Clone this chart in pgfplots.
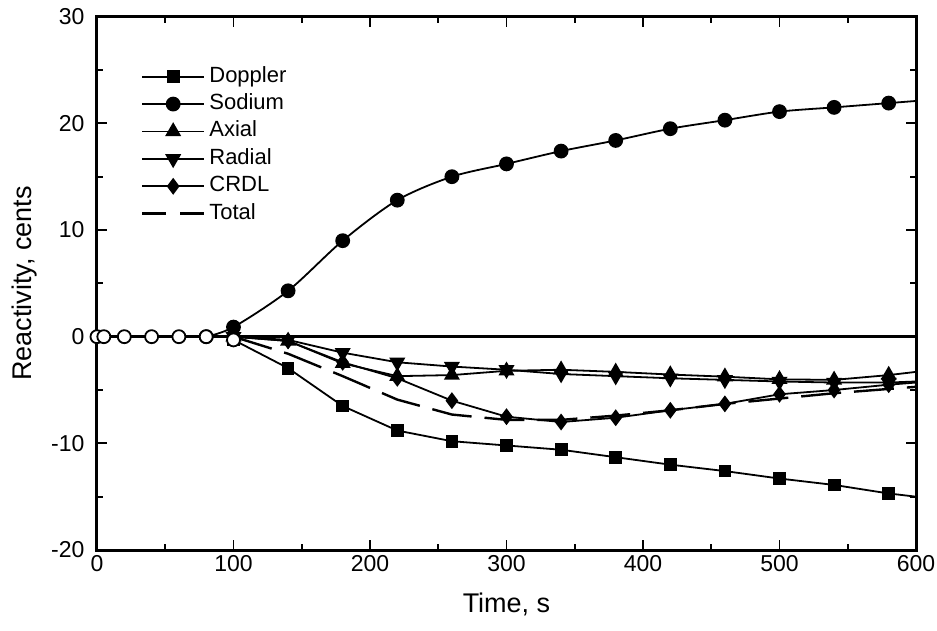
\documentclass[border=0pt]{standalone}
\usepackage{fontspec}
\setmainfont{Liberation Sans}
\usepackage{pgfplots}
\pgfplotsset{compat=1.18}
\begin{document}
\begin{tikzpicture}
\begin{axis}[
  scale only axis, width=819pt, height=533.3pt,
  xmin=0, xmax=600, ymin=-20, ymax=30,
  xtick={0,100,...,600}, ytick={-20,-10,...,30},
  minor x tick num=1, minor y tick num=1,
  tick align=inside, major tick length=10pt, minor tick length=6pt,
  axis line style={line width=3pt},
  every tick/.style={line width=1.8pt, black},
  tick label style={font=\fontsize{23}{27}\selectfont},
  /pgf/number format/assume math mode=true,
  yticklabel style={xshift=-9pt},
  xticklabel style={yshift=-2pt},
  xlabel={Time, s}, ylabel={Reactivity, cents},
  label style={font=\fontsize{27}{32}\selectfont},
  xlabel style={at={(axis description cs:0.5,-0.103)},anchor=center},
  ylabel style={at={(axis description cs:-0.088,0.5)},anchor=center},
  legend cell align=left,
  legend style={draw=none, fill=none, at={(axis description cs:0.0537,0.911)},
    anchor=north west, inner sep=0pt, outer sep=0pt,
    font=\fontsize{22}{26}\selectfont, row sep=2.4pt, column sep=2pt,
    nodes={inner sep=2pt, text height=16pt, text depth=5pt}},
  legend image code/.code={\draw[/tikz/mark indices={2}] plot coordinates {(0pt,0pt)(31pt,0pt)(62pt,0pt)};},
]
\addplot[black, line width=2.6pt, forget plot] coordinates {(0,0)(600,0)};

\addplot[black, line width=1.8pt, mark=square*, mark size=5.5pt, mark options={solid,fill=black}, mark indices={1,...,13}]
 coordinates {(100,-0.3)(140,-2.95)(180,-6.5)(220,-8.8)(260,-9.8)(300,-10.2)(340,-10.6)(380,-11.3)(420,-12.0)(460,-12.6)(500,-13.3)(540,-13.9)(580,-14.7)(600,-15.0)};
\addlegendentry{Doppler}

\addplot[black, line width=1.8pt, smooth, tension=0.5, mark=*, mark size=6.5pt, mark options={solid,fill=black}, mark indices={1,...,14}]
 coordinates {(80,0)(100,0.9)(140,4.3)(180,9.0)(220,12.8)(260,15.0)(300,16.2)(340,17.4)(380,18.4)(420,19.5)(460,20.3)(500,21.1)(540,21.5)(580,21.9)(600,22.1)};
\addlegendentry{Sodium}

\addplot[black, line width=1.8pt, mark=triangle*, mark size=7.5pt, mark options={solid,fill=black}, mark indices={1,...,13}]
 coordinates {(100,0)(140,-0.4)(180,-2.5)(220,-3.7)(260,-3.6)(300,-3.2)(340,-3.1)(380,-3.3)(420,-3.55)(460,-3.75)(500,-4.0)(540,-4.05)(580,-3.6)(600,-3.3)};
\addlegendentry{Axial}

\addplot[black, line width=1.8pt, mark=triangle*, mark size=7.5pt, mark options={solid,fill=black,rotate=180}, mark indices={1,...,13}]
 coordinates {(100,0)(140,-0.3)(180,-1.5)(220,-2.4)(260,-2.8)(300,-3.1)(340,-3.5)(380,-3.7)(420,-3.9)(460,-4.05)(500,-4.2)(540,-4.3)(580,-4.3)(600,-4.2)};
\addlegendentry{Radial}

\addplot[black, line width=1.8pt, mark=diamond*, mark size=7pt, mark options={solid,fill=black}, mark indices={1,...,13}]
 coordinates {(100,0)(140,-0.4)(180,-2.4)(220,-3.9)(260,-6.0)(300,-7.5)(340,-8.0)(380,-7.6)(420,-6.9)(460,-6.3)(500,-5.4)(540,-5.0)(580,-4.5)(600,-4.3)};
\addlegendentry{CRDL}

\addplot[black, line width=2.4pt, dash pattern=on 40pt off 13pt,
  legend image code/.code={\draw[dash pattern=on 24pt off 14pt] (0pt,0pt)--(62pt,0pt);}]
 coordinates {(100,0)(140,-1.6)(180,-3.7)(220,-5.9)(260,-7.3)(300,-7.8)(340,-7.8)(380,-7.4)(420,-6.9)(460,-6.3)(500,-5.8)(540,-5.3)(580,-4.9)(600,-4.7)};
\addlegendentry{Total}

\addplot[only marks, mark=*, mark size=6.5pt, mark options={fill=white, draw=black, line width=1.8pt}, forget plot]
 coordinates {(0,0)(5,0)(20,0)(40,0)(60,0)(80,0)(100,-0.3)};
\end{axis}
\pgfresetboundingbox
\useasboundingbox (-97pt,-80pt) rectangle (840pt,550pt);
\end{tikzpicture}
\end{document}
